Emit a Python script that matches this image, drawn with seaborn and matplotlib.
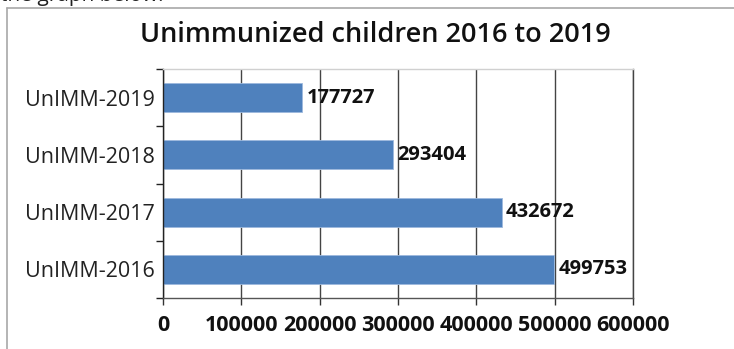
import matplotlib
matplotlib.use("Agg")
import matplotlib.pyplot as plt
from matplotlib.lines import Line2D
from matplotlib.ticker import FixedLocator
import seaborn as sns
import pandas as pd

categories = ["UnIMM-2019", "UnIMM-2018", "UnIMM-2017", "UnIMM-2016"]
values = [177727, 293404, 432672, 499753]
xticks = [0, 100000, 200000, 300000, 400000, 500000, 600000]
title = "Unimmunized children 2016 to 2019"
header = "the graph below:"

sns.set_theme(style="white")
plt.rcParams["font.family"] = ["Open Sans", "DejaVu Sans"]

W, H = 734, 349
fig = plt.figure(figsize=(W / 100, H / 100), dpi=100)
ax = fig.add_axes([163 / W, 1 - 298 / H, (633 - 163) / W, (298 - 69) / H])

df = pd.DataFrame({"cat": categories, "val": values})
sns.barplot(data=df, x="val", y="cat", orient="h", color="#4F81BD",
            saturation=1, width=0.51, ax=ax, edgecolor="#9DB9DD", linewidth=0.6)

ax.set_xlim(0, 600000)
ax.set_ylim(3.5, -0.5)
ax.set_xticks(xticks)
ax.set_xticklabels([str(v) for v in xticks], fontweight="bold", fontsize=15.5)
ax.set_xlabel("")
ax.set_ylabel("")
ax.grid(axis="x", color="#444444", linewidth=1)
ax.set_axisbelow(True)

ax.yaxis.set_minor_locator(FixedLocator([-0.5, 0.5, 1.5, 2.5, 3.5]))
ax.tick_params(axis="y", which="major", length=0, labelsize=15.5, pad=6,
               labelcolor="#222222")
ax.tick_params(axis="y", which="minor", length=5, width=1, color="#222222",
               left=True)
ax.tick_params(axis="x", which="major", length=5, width=1, color="#333333",
               bottom=True, pad=7, labelcolor="#111111")

for side in ["left", "bottom", "top", "right"]:
    ax.spines[side].set_visible(True)
ax.spines["left"].set_color("#222222")
ax.spines["bottom"].set_color("#555555")
ax.spines["top"].set_color("#d0d0d0")
ax.spines["right"].set_color("#444444")
for s in ax.spines.values():
    s.set_linewidth(1)

for c in ax.containers:
    ax.bar_label(c, labels=[str(v) for v in values], padding=3,
                 fontweight="bold", fontsize=14.5, color="#111111")

fig.text(375 / W, 1 - 35 / H, title, ha="center", va="center", fontsize=19.5,
         fontweight="semibold", color="#111111")
fig.text(0.0, 1 - 1.5 / H, header, ha="left", va="baseline", fontsize=15,
         color="#222222")

fig.add_artist(Line2D([7 / W, 7 / W], [0, 1 - 8 / H], transform=fig.transFigure,
                      color="#a8a8a8", linewidth=1.2))
fig.add_artist(Line2D([7 / W, 1], [1 - 8 / H, 1 - 8 / H], transform=fig.transFigure,
                      color="#a8a8a8", linewidth=1.2))

fig.savefig("out.png", dpi=100, facecolor="white")
